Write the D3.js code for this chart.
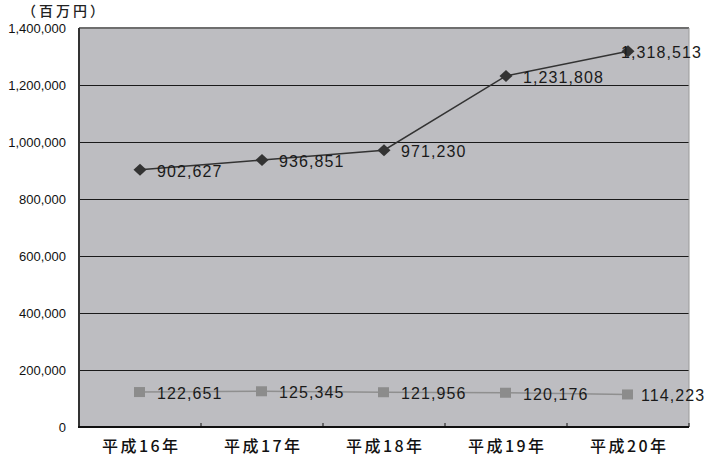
<!DOCTYPE html>
<html>
<head>
<meta charset="utf-8">
<script src="https://cdn.jsdelivr.net/npm/d3@7"></script>
<style>
  body { margin: 0; background: #fff; }
</style>
</head>
<body>
<script>
// Chart data
let categories = ["平成16年", "平成17年", "平成18年", "平成19年", "平成20年"];
let seriesA = [902627, 936851, 971230, 1231808, 1318513];
let seriesB = [122651, 125345, 121956, 120176, 114223];
let yTicks = [0, 200000, 400000, 600000, 800000, 1000000, 1200000, 1400000];
let unitLabel = "（百万円）";

let opts = { width: 705, height: 457, left: 79, right: 689, top: 28, bottom: 427 };
let jpFont = "'Noto Sans CJK JP', sans-serif";
let numFont = "'Liberation Sans', Arial, sans-serif";

let svg = d3.select("body").append("svg")
    .attr("width", opts.width)
    .attr("height", opts.height);

let x = d3.scaleBand().domain(categories).range([opts.left, opts.right]);
let y = d3.scaleLinear().domain([0, 1400000]).range([opts.bottom, opts.top]);
let cx = (d) => x(d) + x.bandwidth() / 2;
let fmt = d3.format(",");

// Plot background
svg.append("rect")
    .attr("x", opts.left).attr("y", opts.top)
    .attr("width", opts.right - opts.left).attr("height", opts.bottom - opts.top)
    .attr("fill", "#bdbdc1");

// Gridlines
svg.append("g").selectAll("line")
    .data(yTicks.filter((d) => d > 0 && d < 1400000))
    .enter().append("line")
    .attr("x1", opts.left).attr("x2", opts.right)
    .attr("y1", (d) => y(d) + 0.5).attr("y2", (d) => y(d) + 0.5)
    .attr("stroke", "#1a1a1a").attr("stroke-width", 1);

// Frame
svg.append("line").attr("x1", opts.left).attr("x2", opts.right)
    .attr("y1", opts.top).attr("y2", opts.top)
    .attr("stroke", "#6e6e6e").attr("stroke-width", 2);
svg.append("line").attr("x1", opts.right).attr("x2", opts.right)
    .attr("y1", opts.top).attr("y2", opts.bottom)
    .attr("stroke", "#9a9a9a").attr("stroke-width", 1);
svg.append("line").attr("x1", opts.left).attr("x2", opts.left)
    .attr("y1", opts.top).attr("y2", opts.bottom)
    .attr("stroke", "#333").attr("stroke-width", 2);

// Y axis
let yAxis = svg.append("g")
    .attr("transform", `translate(${opts.left},0)`)
    .call(d3.axisLeft(y).tickValues(yTicks).tickFormat(fmt).tickSize(0).tickPadding(13));
yAxis.select(".domain").remove();
yAxis.selectAll("text").attr("font-size", 13).attr("fill", "#111")
    .attr("font-family", numFont);

// X axis
let xAxis = svg.append("g")
    .attr("transform", `translate(0,${opts.bottom})`)
    .call(d3.axisBottom(x).tickSize(0).tickPadding(14));
xAxis.select(".domain").remove();
xAxis.selectAll("text").attr("font-size", 16).attr("fill", "#111")
    .attr("font-family", jpFont).attr("font-weight", 500)
    .attr("letter-spacing", 2.5).attr("dx", 1.25);

svg.append("line").attr("x1", opts.left - 1).attr("x2", opts.right)
    .attr("y1", opts.bottom).attr("y2", opts.bottom)
    .attr("stroke", "#111").attr("stroke-width", 2);

// Category separator ticks
svg.append("g").selectAll("line")
    .data(categories.slice(1).concat([null]))
    .enter().append("line")
    .attr("x1", (d) => d ? x(d) : opts.right)
    .attr("x2", (d) => d ? x(d) : opts.right)
    .attr("y1", opts.bottom - 4).attr("y2", opts.bottom)
    .attr("stroke", "#111");

// Unit label
svg.append("text")
    .attr("x", 22).attr("y", 16.3)
    .attr("font-size", 14).attr("font-weight", 500).attr("fill", "#222")
    .attr("font-family", jpFont).attr("letter-spacing", 3)
    .text(unitLabel);

let line = d3.line().x((d, i) => cx(categories[i])).y((d) => y(d));

// Series B (squares)
svg.append("path").datum(seriesB)
    .attr("d", line).attr("fill", "none")
    .attr("stroke", "#8f8f8f").attr("stroke-width", 1.5);
svg.append("g").selectAll("rect")
    .data(seriesB).enter().append("rect")
    .attr("x", (d, i) => cx(categories[i]) - 6)
    .attr("y", (d) => y(d) - 5)
    .attr("width", 11).attr("height", 10)
    .attr("fill", "#8c8c8c");

// Series A (diamonds)
svg.append("path").datum(seriesA)
    .attr("d", line).attr("fill", "none")
    .attr("stroke", "#333").attr("stroke-width", 1.5);
svg.append("g").selectAll("path.pt")
    .data(seriesA).enter().append("path")
    .attr("class", "pt")
    .attr("d", "M-6.5,0L0,-6L6.5,0L0,6Z")
    .attr("transform", (d, i) => `translate(${cx(categories[i])},${y(d)})`)
    .attr("fill", "#333");

// Value labels
function labels(data) {
    svg.append("g").selectAll("text")
        .data(data).enter().append("text")
        .attr("x", (d, i) => cx(categories[i]) + (i === 4 ? (data === seriesA ? -7 : 13) : 17))
        .attr("y", (d) => y(d) + 7)
        .attr("font-size", 16).attr("fill", "#1a1a1a")
        .attr("font-family", numFont)
        .attr("letter-spacing", 1.1)
        .text(fmt);
}
labels(seriesA);
labels(seriesB);
</script>
</body>
</html>
